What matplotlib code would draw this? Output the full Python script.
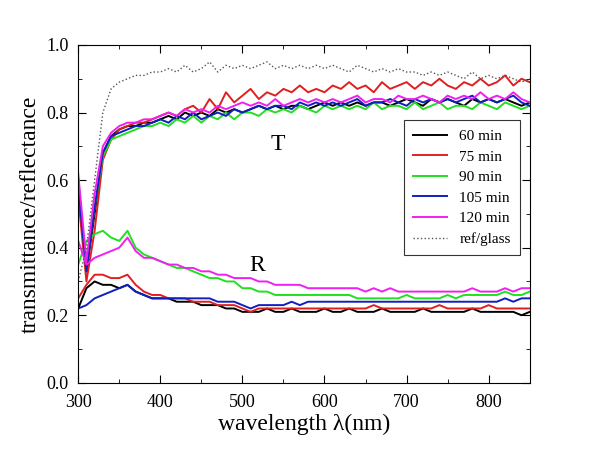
import matplotlib
matplotlib.use('Agg')
import matplotlib.pyplot as plt
import numpy as np

plt.rcParams['font.family'] = ['Liberation Serif', 'DejaVu Serif']

wl = np.arange(300, 851, 10)

# transmittance
T60 = [0.60, 0.33, 0.50, 0.68, 0.73, 0.75, 0.76, 0.76, 0.77, 0.77, 0.78,
       0.79, 0.78, 0.80, 0.79, 0.80, 0.79, 0.81, 0.80, 0.81, 0.80,
       0.81, 0.82, 0.81, 0.82, 0.81, 0.82, 0.82, 0.81, 0.82, 0.83,
       0.82, 0.83, 0.82, 0.83, 0.82, 0.83, 0.83, 0.82, 0.83, 0.84,
       0.83, 0.82, 0.84, 0.83, 0.84, 0.83, 0.82, 0.84, 0.83, 0.84,
       0.83, 0.84, 0.83, 0.82, 0.83]
T75 = [0.55, 0.30, 0.45, 0.66, 0.72, 0.75, 0.76, 0.77, 0.77, 0.78, 0.79,
       0.80, 0.79, 0.81, 0.82, 0.80, 0.84, 0.81, 0.86, 0.83, 0.85,
       0.87, 0.84, 0.86, 0.85, 0.87, 0.86, 0.88, 0.86, 0.87, 0.86,
       0.88, 0.87, 0.89, 0.87, 0.88, 0.86, 0.89, 0.87, 0.88, 0.89,
       0.87, 0.89, 0.88, 0.90, 0.88, 0.87, 0.89, 0.88, 0.90, 0.88,
       0.89, 0.91, 0.88, 0.90, 0.89]
T90 = [0.60, 0.34, 0.52, 0.67, 0.72, 0.73, 0.74, 0.75, 0.76, 0.76, 0.77,
       0.76, 0.78, 0.77, 0.79, 0.77, 0.79, 0.78, 0.80, 0.78, 0.80,
       0.80, 0.79, 0.81, 0.80, 0.81, 0.80, 0.82, 0.81, 0.80, 0.82,
       0.81, 0.82, 0.81, 0.82, 0.81, 0.83, 0.81, 0.82, 0.82, 0.81,
       0.83, 0.81, 0.82, 0.83, 0.81, 0.82, 0.82, 0.81, 0.83, 0.82,
       0.81, 0.83, 0.82, 0.81, 0.82]
T105 = [0.58, 0.33, 0.52, 0.68, 0.73, 0.74, 0.75, 0.76, 0.76, 0.77, 0.78,
        0.77, 0.79, 0.78, 0.80, 0.78, 0.79, 0.80, 0.79, 0.81, 0.80,
        0.81, 0.82, 0.81, 0.82, 0.82, 0.81, 0.83, 0.82, 0.83, 0.82,
        0.83, 0.82, 0.83, 0.84, 0.82, 0.83, 0.83, 0.84, 0.83, 0.82,
        0.84, 0.83, 0.84, 0.83, 0.84, 0.83, 0.84, 0.85, 0.83, 0.84,
        0.83, 0.84, 0.85, 0.83, 0.82]
T120 = [0.62, 0.36, 0.56, 0.70, 0.74, 0.76, 0.77, 0.77, 0.78, 0.78, 0.79,
        0.80, 0.79, 0.81, 0.80, 0.81, 0.80, 0.82, 0.81, 0.82, 0.83,
        0.82, 0.83, 0.82, 0.84, 0.82, 0.83, 0.84, 0.83, 0.84, 0.83,
        0.84, 0.83, 0.84, 0.85, 0.83, 0.84, 0.84, 0.83, 0.85, 0.84,
        0.84, 0.85, 0.84, 0.83, 0.85, 0.84, 0.85, 0.84, 0.86, 0.84,
        0.85, 0.84, 0.86, 0.84, 0.83]
Tref = [0.30, 0.40, 0.60, 0.80, 0.87, 0.89, 0.90, 0.91, 0.91, 0.92, 0.92,
        0.93, 0.92, 0.94, 0.92, 0.93, 0.95, 0.92, 0.94, 0.93, 0.94,
        0.93, 0.94, 0.95, 0.93, 0.94, 0.93, 0.94, 0.93, 0.94, 0.93,
        0.94, 0.93, 0.92, 0.94, 0.93, 0.92, 0.93, 0.92, 0.93, 0.92,
        0.92, 0.91, 0.92, 0.91, 0.92, 0.91, 0.90, 0.92, 0.90, 0.91,
        0.90, 0.91, 0.90, 0.89, 0.90]

# reflectance
R60 = [0.22, 0.28, 0.30, 0.29, 0.29, 0.28, 0.29, 0.27, 0.26, 0.25, 0.25,
       0.25, 0.24, 0.24, 0.24, 0.23, 0.23, 0.23, 0.22, 0.22, 0.21,
       0.21, 0.21, 0.22, 0.21, 0.21, 0.22, 0.21, 0.21, 0.21, 0.22,
       0.21, 0.21, 0.22, 0.21, 0.21, 0.21, 0.22, 0.21, 0.21, 0.21,
       0.21, 0.22, 0.21, 0.21, 0.21, 0.21, 0.21, 0.22, 0.21, 0.21,
       0.21, 0.21, 0.21, 0.20, 0.21]
R75 = [0.25, 0.29, 0.32, 0.32, 0.31, 0.31, 0.32, 0.29, 0.27, 0.26, 0.26,
       0.25, 0.25, 0.25, 0.24, 0.24, 0.24, 0.23, 0.23, 0.23, 0.22,
       0.21, 0.22, 0.22, 0.22, 0.22, 0.22, 0.22, 0.22, 0.22, 0.22,
       0.22, 0.22, 0.22, 0.22, 0.22, 0.23, 0.22, 0.22, 0.22, 0.22,
       0.22, 0.22, 0.22, 0.23, 0.22, 0.22, 0.22, 0.22, 0.22, 0.23,
       0.22, 0.22, 0.22, 0.22, 0.22]
R90 = [0.35, 0.42, 0.44, 0.45, 0.43, 0.42, 0.45, 0.40, 0.38, 0.37, 0.36,
       0.35, 0.34, 0.34, 0.33, 0.32, 0.31, 0.31, 0.30, 0.30, 0.28,
       0.28, 0.27, 0.27, 0.26, 0.26, 0.26, 0.26, 0.26, 0.26, 0.26,
       0.26, 0.26, 0.26, 0.25, 0.25, 0.25, 0.25, 0.25, 0.25, 0.26,
       0.25, 0.25, 0.25, 0.25, 0.26, 0.25, 0.26, 0.26, 0.26, 0.26,
       0.26, 0.27, 0.26, 0.26, 0.27]
R105 = [0.22, 0.23, 0.25, 0.26, 0.27, 0.28, 0.29, 0.27, 0.26, 0.25, 0.25,
        0.25, 0.25, 0.25, 0.25, 0.25, 0.25, 0.24, 0.24, 0.24, 0.23,
        0.22, 0.23, 0.23, 0.23, 0.23, 0.24, 0.23, 0.24, 0.24, 0.24,
        0.24, 0.24, 0.24, 0.24, 0.24, 0.24, 0.24, 0.24, 0.24, 0.24,
        0.24, 0.24, 0.24, 0.24, 0.24, 0.24, 0.24, 0.24, 0.24, 0.24,
        0.24, 0.25, 0.24, 0.25, 0.25]
R120 = [0.42, 0.35, 0.37, 0.38, 0.39, 0.40, 0.43, 0.39, 0.37, 0.37, 0.36,
        0.35, 0.35, 0.34, 0.34, 0.33, 0.33, 0.32, 0.32, 0.31, 0.31,
        0.31, 0.30, 0.30, 0.29, 0.29, 0.29, 0.29, 0.28, 0.28, 0.28,
        0.28, 0.28, 0.28, 0.28, 0.27, 0.28, 0.27, 0.28, 0.27, 0.27,
        0.27, 0.27, 0.27, 0.27, 0.27, 0.27, 0.27, 0.28, 0.27, 0.27,
        0.27, 0.28, 0.27, 0.28, 0.28]

labels = ['60 min', '75 min', '90 min', '105 min', '120 min']
colors = ['black', '#e02020', '#20e020', '#1020c0', '#f020f0']
Tser = [T60, T75, T90, T105, T120]
Rser = [R60, R75, R90, R105, R120]

fig = plt.figure(figsize=(6.11, 4.59), dpi=100)
ax = fig.add_axes([0.128, 0.166, 0.739, 0.736])

for t, r, c, lab in zip(Tser, Rser, colors, labels):
    ax.plot(wl, t, color=c, lw=1.4, label=lab)
    ax.plot(wl, r, color=c, lw=1.4)
ax.plot(wl, Tref, color='#555555', lw=1, ls=':', label='ref/glass')

ax.set_xlim(300, 850)
ax.set_ylim(0, 1.0)
ax.set_xticks([300, 400, 500, 600, 700, 800])
ax.set_xticks(np.arange(350, 851, 100), minor=True)
ax.set_yticks(np.arange(0, 1.01, 0.2))
ax.set_yticks(np.arange(0.1, 1.0, 0.2), minor=True)
ax.yaxis.set_major_formatter(matplotlib.ticker.FormatStrFormatter('%.1f'))
ax.tick_params(which='both', direction='in', top=True, right=True, labelsize=13)
ax.tick_params(which='major', length=6)
ax.tick_params(which='minor', length=3)
ax.tick_params(axis='x', pad=8)
ax.tick_params(axis='y', pad=7)

ax.set_xlabel('wavelength λ(nm)', fontsize=17, labelpad=2)
ax.set_ylabel('transmittance/reflectance', fontsize=17, labelpad=4)
ax.text(534, 0.69, 'T', fontsize=17)
ax.text(508, 0.33, 'R', fontsize=17)

leg = ax.legend(loc='upper right', bbox_to_anchor=(0.995, 0.8), fontsize=11,
                frameon=True, fancybox=False, edgecolor='black',
                handlelength=2.2, labelspacing=0.45, borderpad=0.6)
leg.get_frame().set_linewidth(0.8)

plt.savefig('out.png', dpi=100)
